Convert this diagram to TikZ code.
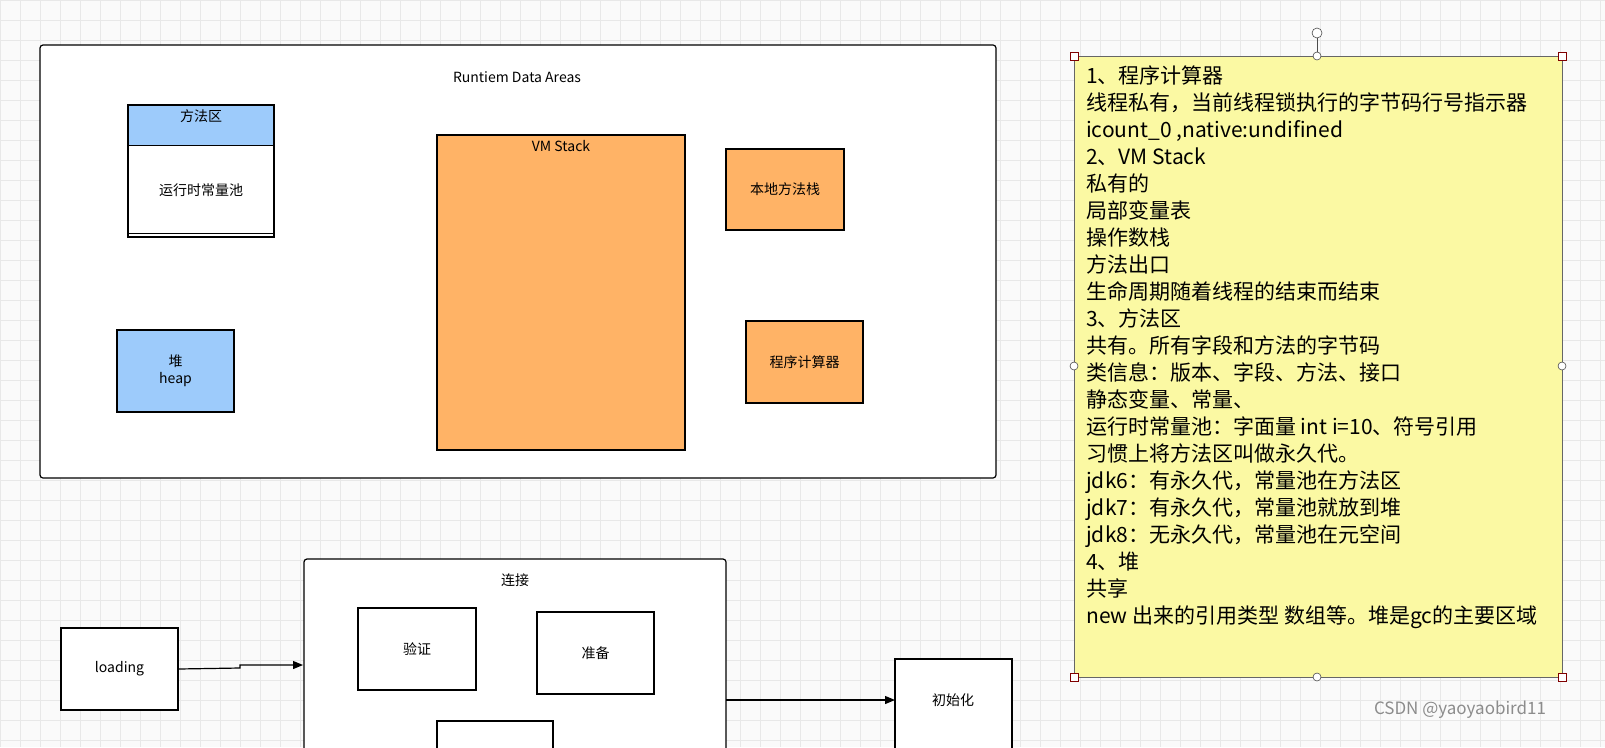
\documentclass[tikz,border=0pt]{standalone}
\usepackage{fontspec}
\setmainfont{Noto Sans CJK SC}
\usetikzlibrary{arrows.meta}
\definecolor{bluef}{HTML}{9DCBFB}
\definecolor{orangef}{HTML}{FFB366}
\definecolor{notef}{HTML}{FBF9A3}
\tikzset{
  box/.style={draw=black,line width=1.2pt,fill=white},
  lbl/.style={font=\fontsize{14}{17}\selectfont,align=center},
  arr/.style={line width=1.2pt,-{Triangle[length=10pt,width=8pt]}},
  hnd/.style={draw=black!70,fill=white,line width=0.6pt},
}
\begin{document}
\begin{tikzpicture}[x=1pt,y=-1pt]
\useasboundingbox (0,0) rectangle (1605,747);
\clip (0,0) rectangle (1605,747);
\fill[white!96!gray] (0,0) rectangle (1605,747);
\foreach \i in {0,20,...,1600} \draw[black!9,line width=0.5pt] (\i,0) -- (\i,747);
\foreach \i in {0,20,...,740} \draw[black!9,line width=0.5pt] (0,\i) -- (1605,\i);
% main area
\draw[box,rounded corners=3pt] (40,45) rectangle (996,478);
\node[lbl] (title) at (517,77) {Runtiem Data Areas};
% method area
\draw[box] (128,105) rectangle (274,237);
\draw[line width=1pt] (128,233) -- (274,233);
\fill[bluef] (128.6,105.6) rectangle (273.4,145);
\draw[line width=1pt] (128,145) -- (274,145);
\draw[line width=1.2pt] (128,105) rectangle (274,237);
\node[lbl] (ff) at (201,116) {方法区};
\node[lbl] (cp) at (201,190) {运行时常量池};
% heap
\node[box,fill=bluef,minimum width=117,minimum height=82,lbl] (heap) at (175.5,371) {堆\\heap};
% VM stack
\draw[box,fill=orangef] (437,135) rectangle (685,450);
\node[lbl] (vms) at (561,146) {VM Stack};
\node[box,fill=orangef,minimum width=118,minimum height=81,lbl] (native) at (785,189.5) {本地方法栈};
\node[box,fill=orangef,minimum width=117,minimum height=82,lbl] (pc) at (804.5,362) {程序计算器};
% note
\draw[line width=0.6pt,black!70] (1317,33) -- (1317,56);
\draw[fill=notef,draw=black!60,line width=0.6pt] (1074,56) rectangle (1562,677);
\node[anchor=north west,inner sep=0,align=left,font=\fontsize{21}{27}\selectfont] (notetext) at (1086,66) {1、程序计算器\\
线程私有，当前线程锁执行的字节码行号指示器\\
icount\_0 ,native:undifined\\
2、VM Stack\\
私有的\\
局部变量表\\
操作数栈\\
方法出口\\
生命周期随着线程的结束而结束\\
3、方法区\\
共有。所有字段和方法的字节码\\
类信息：版本、字段、方法、接口\\
静态变量、常量、\\
运行时常量池：字面量 int i=10、符号引用\\
习惯上将方法区叫做永久代。\\
jdk6：有永久代，常量池在方法区\\
jdk7：有永久代，常量池就放到堆\\
jdk8：无永久代，常量池在元空间\\
4、堆\\
共享\\
new 出来的引用类型 数组等。堆是gc的主要区域};
\foreach \p in {(1074,56),(1562,56),(1074,677),(1562,677)} \draw[hnd,draw=red!50!black] \p ++(-4,-4) rectangle ++(8,8);
\foreach \p in {(1317,56),(1074,366),(1562,366),(1317,677)} \draw[hnd] \p circle (4);
\draw[hnd] (1317,33) circle (5);
% bottom
\node[box,minimum width=117,minimum height=82,lbl] (loading) at (119.5,669) {loading};
\draw[box,rounded corners=3pt] (304,559) -- (304,760) -- (726,760) -- (726,559) -- cycle;
\coordinate (linkL) at (303,665);
\coordinate (linkR) at (726,700);
\node[lbl] (link) at (515,580) {连接};
\node[box,minimum width=118,minimum height=82,lbl] (verify) at (417,649) {验证};
\node[box,minimum width=117,minimum height=82,lbl] (prep) at (595.5,653) {准备};
\draw[box] (437,760) -- (437,721) -- (553,721) -- (553,760);
\draw[box] (895,760) -- (895,659) -- (1012,659) -- (1012,760);
\node[lbl] (init) at (953,700) {初始化};
\coordinate (initL) at (895,700);
\draw[arr] (loading.east) -- (240,668) -- (240,665) -- (linkL);
\draw[arr] (linkR) -- (initL);
\node[text=black!45,font=\fontsize{17}{19}\selectfont] (wm) at (1460,710) {CSDN @yaoyaobird11};
\end{tikzpicture}
\end{document}
